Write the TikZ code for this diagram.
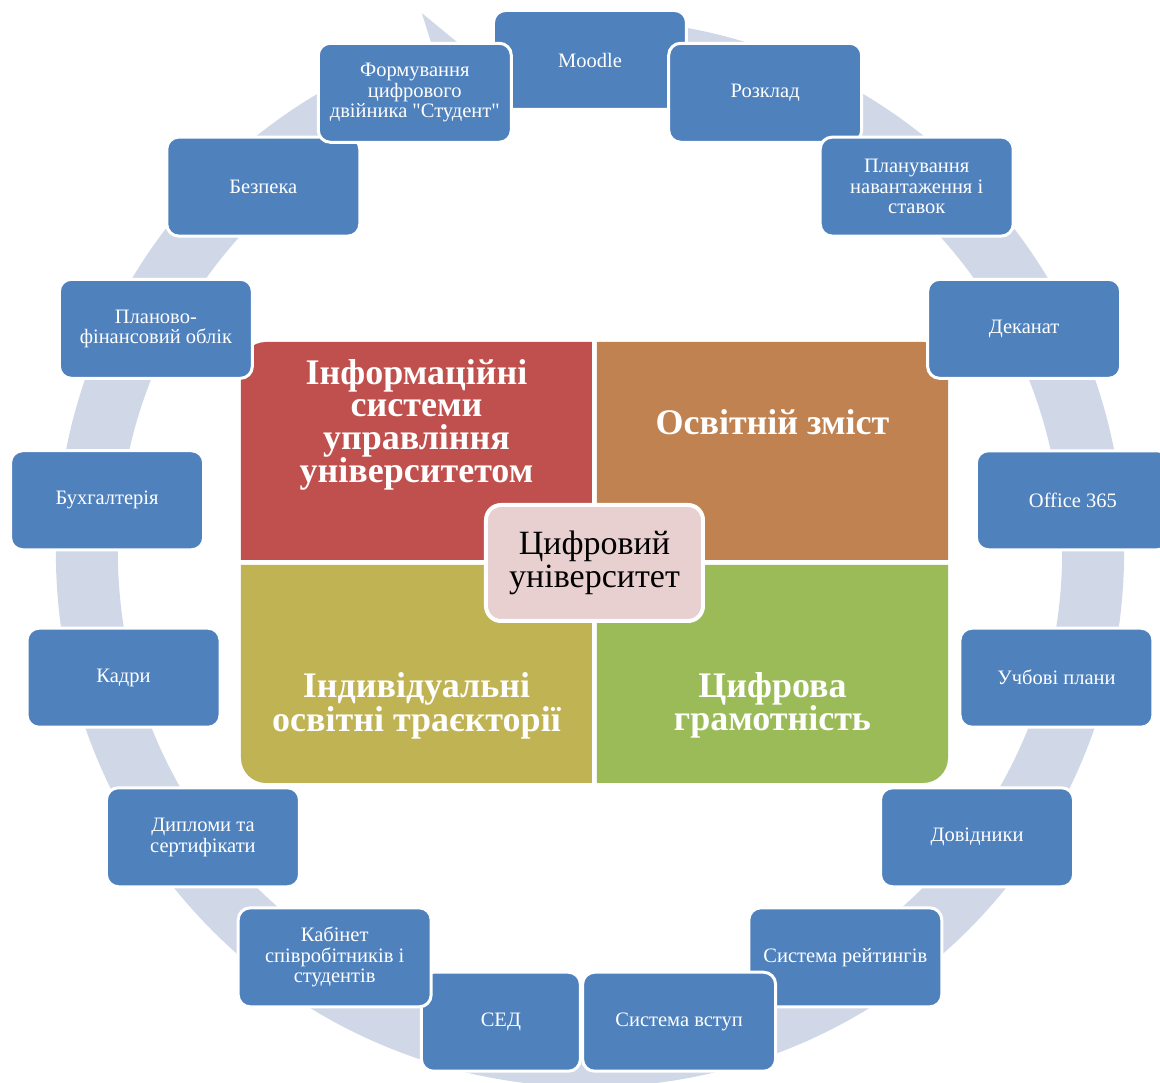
\documentclass[tikz,border=0pt]{standalone}
\usepackage{fontspec}
\setmainfont{Liberation Serif}
\newfontfamily\boxfont{Liberation Serif}
\usetikzlibrary{positioning}
\definecolor{boxblue}{HTML}{4F81BD}
\definecolor{ringgray}{HTML}{D0D8E8}
\definecolor{redq}{HTML}{C0504D}
\definecolor{brownq}{HTML}{BF8250}
\definecolor{oliveq}{HTML}{C0B354}
\definecolor{greenq}{HTML}{9BBB59}
\definecolor{hubpink}{HTML}{E8D0D1}
\begin{document}
\begin{tikzpicture}[
  x=1pt, y=1pt,
  item/.style={draw=white, line width=3pt, fill=boxblue, rounded corners=12pt, minimum height=99pt, inner sep=3pt, align=center, text=white, font=\boxfont\fontsize{20.5}{20.5}\selectfont},
  quad/.style={text=white, align=center, font=\fontsize{36}{32.5}\selectfont\bfseries},
  hub/.style={draw=white, line width=4pt, fill=hubpink, rounded corners=15pt, minimum width=217pt, minimum height=116pt, align=center, font=\fontsize{34}{33}\selectfont}
]
\useasboundingbox (-590,-538) rectangle (570,545);
% ---------- ring arrow behind the boxes ----------
\begin{scope}[shift={(0,-8)}]
\fill[ringgray] (80:534) arc[start angle=80, end angle=-252.7, radius=534]
  -- (-252.7:565.5) -- (-257.5:503) -- (-252.7:440.5) -- (-252.7:472)
  arc[start angle=-252.7, end angle=80, radius=472] -- cycle;
\end{scope}
% ---------- matrix in the middle ----------
\fill[redq] (2,203) -- (-324,203) arc[start angle=90, end angle=180, radius=25] -- (-349,-15) -- (2,-15) -- cycle;
\fill[brownq] (7,203) -- (333,203) arc[start angle=90, end angle=0, radius=25] -- (358,-15) -- (7,-15) -- cycle;
\fill[oliveq] (2,-20) -- (2,-238) -- (-324,-238) arc[start angle=270, end angle=180, radius=25] -- (-349,-20) -- cycle;
\fill[greenq] (7,-20) -- (358,-20) -- (358,-213) arc[start angle=0, end angle=-90, radius=25] -- (7,-238) -- cycle;
\node[quad] (ism) at (-173.5,120) {Інформаційні\\системи\\управління\\університетом};
\node[quad] (oz) at (182.5,123) {Освітній зміст};
\node[quad] (iot) at (-173.5,-160.5) {Індивідуальні\\освітні траєкторії};
\node[quad] (cg) at (182.5,-160.5) {Цифрова\\грамотність};
\node[hub] (cu) at (4.5,-18) {Цифровий\\університет};
% ---------- boxes round the ring, clockwise from the top ----------
\foreach \txt/\w [count=\i from 0] in {Moodle/193, Розклад/193, {Планування\\навантаження і\\ставок}/193, Деканат/193, Office 365/193, Учбові плани/193, Довідники/193, Система рейтингів/193, Система вступ/193, СЕД/159, {Кабінет\\співробітників і\\студентів}/193, {Дипломи та\\сертифікати}/193, Кадри/193, Бухгалтерія/193, {Планово-\\фінансовий облік}/193, Безпека/193, {Формування\\цифрового\\двійника "Студент"}/193}
  \node[item, minimum width=\w pt] (b\i) at ({90-\i*360/17}:485) {\txt};
\end{tikzpicture}
\end{document}
